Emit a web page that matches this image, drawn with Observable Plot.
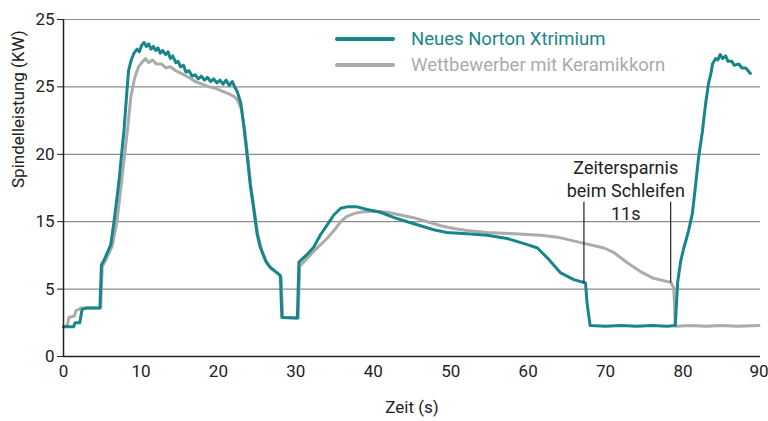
<!DOCTYPE html>
<html>
<head>
<meta charset="utf-8">
<script src="https://cdn.jsdelivr.net/npm/d3@7"></script>
<script src="https://cdn.jsdelivr.net/npm/@observablehq/plot@0.6"></script>
<style>
  html, body { margin: 0; padding: 0; background: #fff; }
  #wrap { position: relative; width: 768px; height: 421px; font-family: Roboto, "DejaVu Sans", sans-serif; }
  #legend { position: absolute; left: 335px; top: 26px; }
  .item { display: flex; align-items: center; height: 26px; font-size: 18.5px; }
  .swatch { width: 60px; height: 4px; border-radius: 2px; margin-right: 16px; }
</style>
</head>
<body>
<div id="wrap"><div id="legend"></div></div>
<script>
// ---- data ----
const seriesNames = ["Neues Norton Xtrimium", "Wettbewerber mit Keramikkorn"];
const seriesColors = ["#17868b", "#ababab"];

const tealSeries = [
  [0,2.2],[1.3,2.2],[1.5,2.5],[2.1,2.5],[2.4,3.5],[3.0,3.6],[4.7,3.6],[4.9,6.8],[5.2,7.1],[5.8,7.9],
  [6.1,8.3],[6.5,9.9],[6.85,11.5],[7.2,13.2],[7.5,15.0],[7.8,16.7],[8.1,19.0],[8.4,21.2],[8.7,21.9],[9.1,22.5],
  [9.5,22.8],[9.8,22.6],[10.1,23.1],[10.4,23.3],[10.7,23.0],[11.0,23.2],[11.3,22.8],[11.6,23.0],[11.9,22.7],[12.2,22.9],
  [12.5,22.5],[12.8,22.7],[13.2,22.4],[13.5,22.6],[13.8,22.1],[14.1,22.3],[14.5,21.8],[14.8,21.9],[15.1,21.5],[15.5,21.6],
  [15.8,21.1],[16.2,21.2],[16.6,20.8],[17.0,20.9],[17.4,20.6],[17.8,20.8],[18.2,20.5],[18.6,20.7],[19.0,20.4],[19.4,20.6],
  [19.8,20.3],[20.2,20.5],[20.6,20.2],[21.0,20.5],[21.4,20.1],[21.8,20.4],[22.1,20.0],[22.4,19.7],[22.9,18.8],[23.3,17.0],
  [23.7,15.0],[24.1,12.8],[24.6,10.8],[25.0,9.1],[25.4,8.1],[26.1,7.1],[26.7,6.6],[27.6,6.2],[28.0,6.0],[28.2,2.9],
  [30.2,2.85],[30.4,7.0],[31.5,7.6],[32.3,8.1],[33.2,9.05],[34.1,9.8],[34.9,10.5],[35.8,11.0],[36.6,11.1],[37.9,11.1],
  [39.2,10.9],[40.9,10.7],[42.7,10.3],[44.4,10.0],[46.1,9.7],[47.8,9.4],[49.5,9.2],[52.1,9.1],[54.7,9.0],[57.3,8.75],
  [59.9,8.3],[61.2,8.05],[62.5,7.3],[63.8,6.45],[64.2,6.2],[65.9,5.7],[67.4,5.45],[67.6,4.0],[68.0,2.3],[70,2.25],
  [72,2.3],[74,2.25],[76,2.3],[78,2.25],[79.0,2.3],[79.3,5.5],[79.7,7.1],[80.1,8.05],[80.7,9.3],[81.2,10.6],
  [81.6,12.6],[82.0,14.75],[82.5,16.7],[82.9,18.7],[83.3,20.3],[83.6,21.0],[83.8,21.7],[84.2,22.1],[84.5,22.0],[84.8,22.4],
  [85.1,22.1],[85.5,22.3],[85.8,21.9],[86.3,21.9],[86.6,21.6],[87.2,21.7],[87.6,21.4],[88.1,21.4],[88.7,21.0]
];

const graySeries = [
  [0,2.2],[0.5,2.3],[0.7,2.9],[1.4,3.0],[1.6,3.4],[2.0,3.5],[2.2,3.6],[4.8,3.6],[5.0,6.7],[5.5,7.2],
  [6.3,8.2],[6.9,10.0],[7.3,12.0],[7.9,15.0],[8.3,17.0],[8.7,19.3],[9.2,20.7],[9.7,21.5],[10.1,21.8],[10.6,22.1],
  [11.0,21.8],[11.5,22.0],[12.0,21.7],[12.7,21.7],[13.2,21.4],[13.8,21.5],[14.5,21.2],[15.2,21.0],[16.2,20.7],[17.0,20.4],
  [17.9,20.2],[18.8,20.0],[19.6,19.9],[20.4,19.7],[21.3,19.5],[22.0,19.3],[22.5,19.0],[23.0,18.3],[23.4,16.8],[23.8,14.8],
  [24.2,12.6],[24.7,10.6],[25.1,9.0],[25.6,7.9],[26.2,7.0],[26.9,6.5],[27.8,6.1],[28.1,5.9],[28.3,2.9],[30.3,2.85],
  [30.5,6.7],[31.5,7.3],[32.3,7.8],[33.2,8.3],[34.1,8.8],[35.0,9.4],[35.8,10.0],[36.6,10.4],[37.5,10.6],[38.3,10.7],
  [40.0,10.8],[41.8,10.7],[43.5,10.5],[45.2,10.3],[47.0,10.0],[48.7,9.7],[50.4,9.5],[52.1,9.35],[54.7,9.2],[58.2,9.1],
  [61.6,9.0],[63.8,8.85],[64.2,8.8],[66.8,8.45],[69.8,8.05],[71.1,7.7],[72.8,6.95],[74.5,6.3],[76.2,5.8],[78.4,5.5],
  [78.8,5.1],[79.0,2.25],[81,2.3],[83,2.25],[85,2.3],[87,2.25],[89.8,2.3]
];

const xTicks = [0,10,20,30,40,50,60,70,80,90];
const yTickPositions = [0,5,10,15,20,25];
const yTickLabels = ["0","5","15","20","25","25"];
const xLabel = "Zeit (s)";
const yLabel = "Spindelleistung (KW)";

const annotationTimes = [67.2, 78.4];
const annotationSpan = [5.45, 11.45];
const annotationText = "Zeitersparnis\nbeim Schleifen\n11s";
const annotationPos = [72.6, 12.4];

// ---- chart ----
const toRows = (arr) => arr.map(([t, v]) => ({t, v}));
const FONT = "Roboto, 'DejaVu Sans', sans-serif";
const innerTicks = xTicks.slice(0, -1);
const lastTick = xTicks.slice(-1);

const chart = Plot.plot({
  width: 768,
  height: 421,
  marginLeft: 63,
  marginRight: 8,
  marginTop: 19,
  marginBottom: 65,
  style: {fontFamily: FONT, fontSize: "17px", color: "#222", background: "#fff"},
  x: {domain: [0, 90]},
  y: {domain: [0, 25]},
  marks: [
    Plot.gridY(yTickPositions.slice(1), {stroke: "#8c8c8c", strokeOpacity: 1, strokeWidth: 1.2}),
    Plot.line(toRows(graySeries), {x: "t", y: "v", stroke: seriesColors[1], strokeWidth: 3, curve: "linear"}),
    Plot.line(toRows(tealSeries), {x: "t", y: "v", stroke: seriesColors[0], strokeWidth: 3, curve: "linear"}),
    Plot.ruleX(annotationTimes, {y1: annotationSpan[0], y2: annotationSpan[1], stroke: "#222", strokeWidth: 1.2}),
    Plot.text([annotationText], {x: annotationPos[0], y: annotationPos[1], text: d => d, fontSize: 18, fill: "#222", lineHeight: 1.27, textAnchor: "middle"}),
    Plot.axisY(yTickPositions, {tickSize: 6, tickPadding: 3, tickFormat: (d, i) => yTickLabels[i], fontSize: 17, label: null, stroke: "#222"}),
    Plot.axisX(innerTicks, {tickSize: 0, tickPadding: 8, fontSize: 17, label: null}),
    Plot.axisX(lastTick, {tickSize: 0, tickPadding: 8, fontSize: 17, label: null, textAnchor: "end", dx: 8}),
    Plot.ruleX([0], {stroke: "#222", strokeWidth: 1.5}),
    Plot.ruleY([0], {stroke: "#222", strokeWidth: 1.5}),
    Plot.text([xLabel], {frameAnchor: "bottom", dy: 56, text: d => d, fontSize: 17, fill: "#222"}),
    Plot.text([yLabel], {frameAnchor: "left", dx: -45, rotate: -90, text: d => d, fontSize: 17, fill: "#222"})
  ]
});

const wrap = document.getElementById("wrap");
wrap.insertBefore(chart, wrap.firstChild);

const legend = document.getElementById("legend");
seriesNames.forEach((name, i) => {
  const item = document.createElement("div");
  item.className = "item";
  const sw = document.createElement("div");
  sw.className = "swatch";
  sw.style.background = seriesColors[i];
  const lab = document.createElement("span");
  lab.textContent = name;
  lab.style.color = seriesColors[i];
  item.appendChild(sw);
  item.appendChild(lab);
  legend.appendChild(item);
});
</script>
</body>
</html>
